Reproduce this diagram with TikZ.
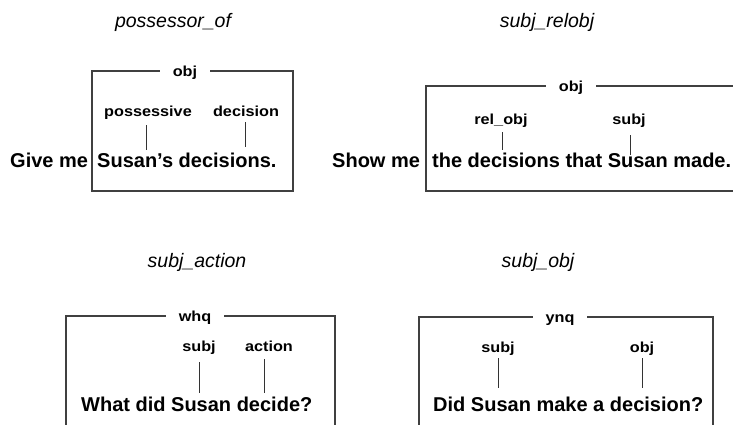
\documentclass[tikz,border=0pt]{standalone}
\usepackage{fontspec}
\usepackage{graphicx}
\setmainfont{Liberation Sans}
\begin{document}
\begin{tikzpicture}[x=1pt,y=-1pt,
  title/.style={anchor=base,inner sep=0pt,font=\fontsize{19.5}{22}\selectfont\itshape},
  sentence/.style={anchor=base west,inner sep=0pt,font=\fontsize{20}{24}\selectfont\bfseries},
  role/.style={anchor=base,inner sep=0pt,font=\fontsize{14.5}{17}\selectfont\bfseries},
  frame/.style={draw=black!75,line width=1.1pt},
  framelabel/.style={anchor=base,fill=white,inner xsep=13pt,inner ysep=2pt,font=\fontsize{14.5}{17}\selectfont\bfseries},
  link/.style={draw=black!80,line width=0.9pt}]
\newcommand{\rl}[1]{\scalebox{1.12}[1]{#1}}
\useasboundingbox (0,0) rectangle (733,424);
\clip (0,0) rectangle (733,424);
\fill[white] (0,0) rectangle (733,424);

% ---- possessor_of ----
\node[title] (t1) at (173,27) {possessor\_of};
\draw[frame] (92,71) rectangle (293,191);
\node[framelabel] (f1) at (185,76) {\rl{obj}};
\node[sentence] (pre1) at (10,167) {Give me};
\node[sentence] (s1) at (97,167) {Susan’s decisions.};
\node[role] (r1a) at (148,116) {\rl{possessive}};
\node[role] (r1b) at (246,116) {\rl{decision}};
\coordinate (e1a) at (146,150);
\coordinate (e1b) at (245,147);
\draw[link] (r1a.south -| e1a) ++(0,6) -- (e1a);
\draw[link] (r1b.south -| e1b) ++(0,6) -- (e1b);

% ---- subj_relobj ----
\node[title] (t2) at (547,27) {subj\_relobj};
\draw[frame] (426,86) rectangle (760,191);
\node[framelabel] (f2) at (571,91) {\rl{obj}};
\node[sentence] (pre2) at (332,167) {Show me};
\node[sentence] (s2) at (432,167) {the decisions that Susan made.};
\node[role] (r2a) at (501,124) {\rl{rel\_obj}};
\node[role] (r2b) at (629,124) {\rl{subj}};
\coordinate (e2a) at (502,150);
\coordinate (e2b) at (630,155);
\draw[link] (r2a.south -| e2a) ++(0,5) -- (e2a);
\draw[link] (r2b.south -| e2b) ++(0,8) -- (e2b);

% ---- subj_action ----
\node[title] (t3) at (197,267) {subj\_action};
\draw[frame] (66,316) rectangle (335,460);
\node[framelabel] (f3) at (195,321) {\rl{whq}};
\node[sentence] (s3) at (81,411) {What did Susan decide?};
\node[role] (r3a) at (199,351) {\rl{subj}};
\node[role] (r3b) at (269,351) {\rl{action}};
\coordinate (e3a) at (199,393);
\coordinate (e3b) at (264,393);
\draw[link] (r3a.south -| e3a) ++(0,8) -- (e3a);
\draw[link] (r3b.south -| e3b) ++(0,8) -- (e3b);

% ---- subj_obj ----
\node[title] (t4) at (538,267) {subj\_obj};
\draw[frame] (419,317) rectangle (713,460);
\node[framelabel] (f4) at (560,322) {\rl{ynq}};
\node[sentence] (s4) at (433,411) {Did Susan make a decision?};
\node[role] (r4a) at (498,352) {\rl{subj}};
\node[role] (r4b) at (642,352) {\rl{obj}};
\coordinate (e4a) at (498,388);
\coordinate (e4b) at (642,388);
\draw[link] (r4a.south -| e4a) ++(0,3) -- (e4a);
\draw[link] (r4b.south -| e4b) ++(0,3) -- (e4b);
\end{tikzpicture}
\end{document}
